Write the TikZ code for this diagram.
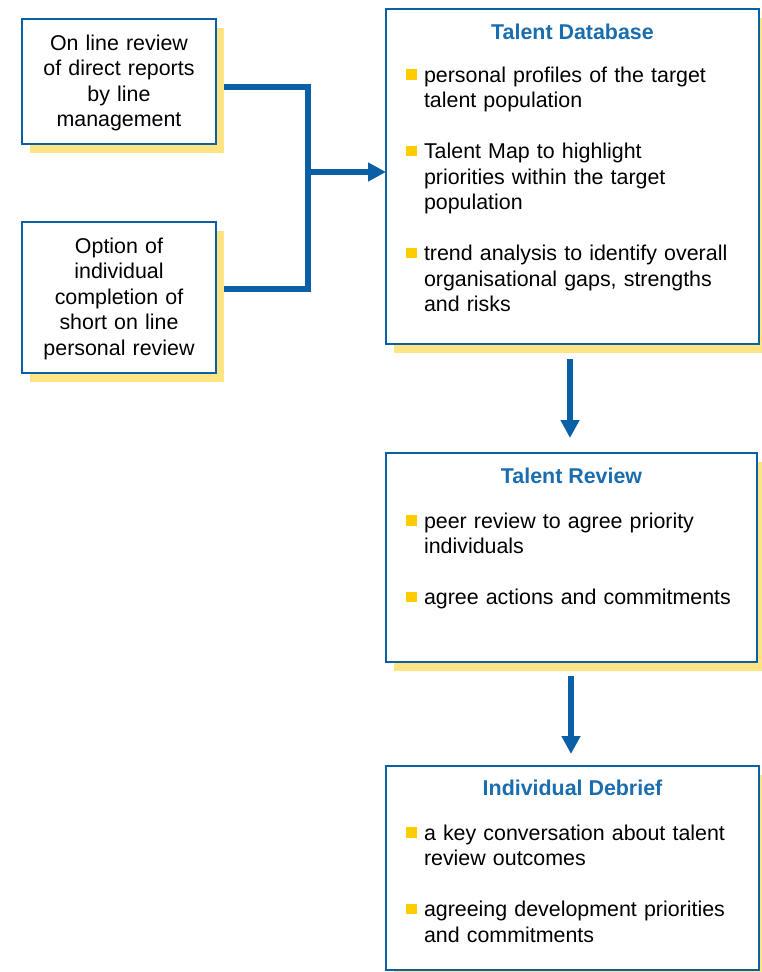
\documentclass[tikz,border=0pt]{standalone}
\usepackage{fontspec}
\setmainfont{Liberation Sans}
\usetikzlibrary{arrows.meta,backgrounds,calc}
\definecolor{bblue}{HTML}{0B5FA5}
\definecolor{tblue}{HTML}{1A6DAE}
\definecolor{shad}{HTML}{FFE483}
\definecolor{bul}{HTML}{FFCC00}
\newcommand\bsq{\leavevmode\llap{\textcolor{bul}{\rule[2.5pt]{10.5pt}{10.5pt}}\hspace{7.5pt}}}
\tikzset{
  box/.style={draw=bblue, line width=2.8pt, fill=white, inner sep=0pt, outer sep=0pt},
  shadowfill/.style={fill=shad},
  conn/.style={draw=bblue, line width=5.5pt},
  arr/.style={draw=bblue, line width=6pt, -{Triangle[width=18pt,length=18pt]}},
  txt/.style={inner sep=0pt, outer sep=0pt, font=\fontsize{21.4}{25.5}\selectfont},
  title/.style={txt, font=\fontsize{21.4}{25.5}\selectfont\bfseries, text=tblue, anchor=base},
  items/.style={txt, anchor=base west, text width=330pt, align=left},
  leftt/.style={txt, anchor=base, text width=190pt, align=center}
}
\begin{document}
\begin{tikzpicture}[x=1pt,y=-1pt]
\useasboundingbox (0,0) rectangle (761,972);
% boxes
\node[box, minimum width=194pt, minimum height=125pt] (b1) at (119,81.5) {};
\node[box, minimum width=194pt, minimum height=151pt] (b2) at (119,297.5) {};
\node[box, minimum width=373pt, minimum height=335pt] (td) at (572.5,176.5) {};
\node[box, minimum width=371pt, minimum height=209pt] (tr) at (571.5,557.5) {};
\node[box, minimum width=373pt, minimum height=204pt] (id) at (572.5,868) {};
% junction coordinates
\coordinate (j1) at (308,87);
\coordinate (j2) at (308,289);
\coordinate (jm) at (308,172);
\coordinate (ax1) at (570,0);
\coordinate (ax2) at (571,0);
\begin{scope}[on background layer]
  \draw[conn] (b1.east |- j1) -- (j1) -- (j2) -- (b2.east |- j2);
  \foreach \n in {b1,b2,td,tr,id}{
    \fill[shadowfill] ($(\n.south west)+(8,9)$) rectangle ($(\n.north east)+(8,9)$);
  }
\end{scope}
\draw[arr] (jm) -- (jm -| td.west);
\draw[arr, shorten <=15pt, shorten >=15pt] (td.south -| ax1) -- (tr.north -| ax1);
\draw[arr, shorten <=14pt, shorten >=12pt] (tr.south -| ax2) -- (id.north -| ax2);
% left texts
\node[leftt] (t1) at (119,50) {On line review\\of direct reports\\by line\\management};
\node[leftt] (t2) at (119,253) {Option of\\individual\\completion of\\short on line\\personal review};
% Talent Database
\node[title] (tdh) at (572.5,39) {Talent Database};
\node[items] (tdi) at (424,82) {\bsq personal profiles of the target\\talent population\\[25.5pt]%
\bsq Talent Map to highlight\\priorities within the target\\population\\[25.5pt]%
\bsq trend analysis to identify overall\\organisational gaps, strengths\\and risks};
% Talent Review
\node[title] (trh) at (571.5,483) {Talent Review};
\node[items] (tri) at (424,528) {\bsq peer review to agree priority\\individuals\\[25.5pt]%
\bsq agree actions and commitments};
% Individual Debrief
\node[title] (idh) at (572.5,795) {Individual Debrief};
\node[items] (idi) at (424,840) {\bsq a key conversation about talent\\review outcomes\\[25.5pt]%
\bsq agreeing development priorities\\and commitments};
\end{tikzpicture}
\end{document}
